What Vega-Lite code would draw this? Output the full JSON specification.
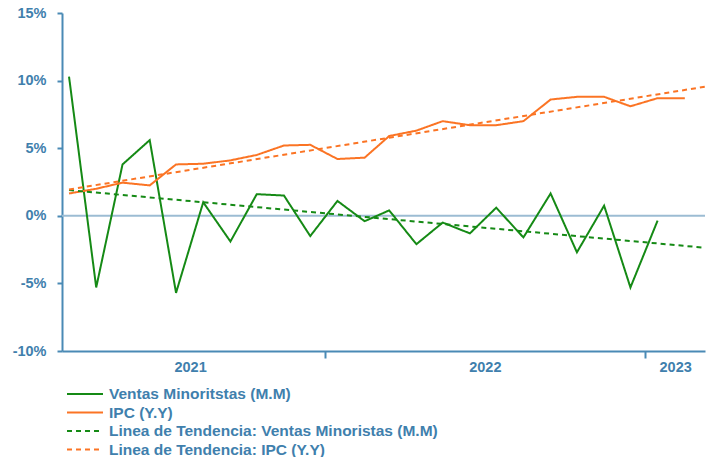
{
  "$schema": "https://vega.github.io/schema/vega-lite/v6.json",
  "width": 643,
  "height": 338,
  "autosize": {"type": "none"},
  "padding": {"left": 62, "top": 13, "right": 7, "bottom": 106},
  "background": "white",
  "config": {"view": {"stroke": null}, "font": "Liberation Sans"},
  "datasets": {
    "series": [
      {"date": "2021-03-15", "series": "Ventas Minoritstas (M.M)", "value": 10.3},
      {"date": "2021-04-15", "series": "Ventas Minoritstas (M.M)", "value": -5.3},
      {"date": "2021-05-15", "series": "Ventas Minoritstas (M.M)", "value": 3.8},
      {"date": "2021-06-15", "series": "Ventas Minoritstas (M.M)", "value": 5.6},
      {"date": "2021-07-15", "series": "Ventas Minoritstas (M.M)", "value": -5.7},
      {"date": "2021-08-15", "series": "Ventas Minoritstas (M.M)", "value": 1.0},
      {"date": "2021-09-15", "series": "Ventas Minoritstas (M.M)", "value": -1.9},
      {"date": "2021-10-15", "series": "Ventas Minoritstas (M.M)", "value": 1.6},
      {"date": "2021-11-15", "series": "Ventas Minoritstas (M.M)", "value": 1.5},
      {"date": "2021-12-15", "series": "Ventas Minoritstas (M.M)", "value": -1.5},
      {"date": "2022-01-15", "series": "Ventas Minoritstas (M.M)", "value": 1.1},
      {"date": "2022-02-15", "series": "Ventas Minoritstas (M.M)", "value": -0.4},
      {"date": "2022-03-15", "series": "Ventas Minoritstas (M.M)", "value": 0.4},
      {"date": "2022-04-15", "series": "Ventas Minoritstas (M.M)", "value": -2.1},
      {"date": "2022-05-15", "series": "Ventas Minoritstas (M.M)", "value": -0.5},
      {"date": "2022-06-15", "series": "Ventas Minoritstas (M.M)", "value": -1.3},
      {"date": "2022-07-15", "series": "Ventas Minoritstas (M.M)", "value": 0.6},
      {"date": "2022-08-15", "series": "Ventas Minoritstas (M.M)", "value": -1.6},
      {"date": "2022-09-15", "series": "Ventas Minoritstas (M.M)", "value": 1.65},
      {"date": "2022-10-15", "series": "Ventas Minoritstas (M.M)", "value": -2.7},
      {"date": "2022-11-15", "series": "Ventas Minoritstas (M.M)", "value": 0.75},
      {"date": "2022-12-15", "series": "Ventas Minoritstas (M.M)", "value": -5.3},
      {"date": "2023-01-15", "series": "Ventas Minoritstas (M.M)", "value": -0.35},
      {"date": "2021-03-15", "series": "IPC (Y.Y)", "value": 1.65},
      {"date": "2021-04-15", "series": "IPC (Y.Y)", "value": 2.0},
      {"date": "2021-05-15", "series": "IPC (Y.Y)", "value": 2.45},
      {"date": "2021-06-15", "series": "IPC (Y.Y)", "value": 2.25},
      {"date": "2021-07-15", "series": "IPC (Y.Y)", "value": 3.8},
      {"date": "2021-08-15", "series": "IPC (Y.Y)", "value": 3.85},
      {"date": "2021-09-15", "series": "IPC (Y.Y)", "value": 4.1},
      {"date": "2021-10-15", "series": "IPC (Y.Y)", "value": 4.5},
      {"date": "2021-11-15", "series": "IPC (Y.Y)", "value": 5.2},
      {"date": "2021-12-15", "series": "IPC (Y.Y)", "value": 5.25},
      {"date": "2022-01-15", "series": "IPC (Y.Y)", "value": 4.2},
      {"date": "2022-02-15", "series": "IPC (Y.Y)", "value": 4.3},
      {"date": "2022-03-15", "series": "IPC (Y.Y)", "value": 5.9},
      {"date": "2022-04-15", "series": "IPC (Y.Y)", "value": 6.3},
      {"date": "2022-05-15", "series": "IPC (Y.Y)", "value": 7.0},
      {"date": "2022-06-15", "series": "IPC (Y.Y)", "value": 6.7},
      {"date": "2022-07-15", "series": "IPC (Y.Y)", "value": 6.7},
      {"date": "2022-08-15", "series": "IPC (Y.Y)", "value": 7.0},
      {"date": "2022-09-15", "series": "IPC (Y.Y)", "value": 8.6},
      {"date": "2022-10-15", "series": "IPC (Y.Y)", "value": 8.8},
      {"date": "2022-11-15", "series": "IPC (Y.Y)", "value": 8.8},
      {"date": "2022-12-15", "series": "IPC (Y.Y)", "value": 8.1},
      {"date": "2023-01-15", "series": "IPC (Y.Y)", "value": 8.7},
      {"date": "2023-02-15", "series": "IPC (Y.Y)", "value": 8.7},
      {"date": "2021-03-15", "series": "Linea de Tendencia: Ventas Minoristas (M.M)", "value": 1.9},
      {"date": "2023-03-08", "series": "Linea de Tendencia: Ventas Minoristas (M.M)", "value": -2.35},
      {"date": "2021-03-15", "series": "Linea de Tendencia: IPC (Y.Y)", "value": 1.95},
      {"date": "2023-03-10", "series": "Linea de Tendencia: IPC (Y.Y)", "value": 9.55}
    ],
    "zero": [{"level": 0}]
  },
  "layer": [
    {
      "data": {"name": "zero"},
      "mark": {"type": "rule", "color": "#9cbcd3", "strokeWidth": 2},
      "encoding": {
        "y": {
          "field": "level",
          "type": "quantitative",
          "scale": {"domain": [-10, 15], "nice": false},
          "axis": {
            "title": null,
            "values": [-10, -5, 0, 5, 10, 15],
            "labelExpr": "datum.value + '%'",
            "tickSize": 5,
            "tickWidth": 2,
            "tickColor": "#4a8ab5",
            "domainColor": "#4a8ab5",
            "domainWidth": 2,
            "labelFont": "Liberation Sans",
            "labelFontWeight": "bold",
            "labelFontSize": 14.5,
            "labelColor": "#3f80ad",
            "labelPadding": 11,
            "grid": false
          }
        }
      }
    },
    {
      "data": {"name": "series", "format": {"parse": {"date": "date"}}},
      "mark": {"type": "line", "strokeWidth": 2},
      "encoding": {
        "x": {
          "field": "date",
          "type": "temporal",
          "scale": {"domain": [{"year": 2021, "month": 3, "date": 7}, {"year": 2023, "month": 3, "date": 10}]},
          "axis": {
            "title": null,
            "values": [
              {"year": 2021, "month": 7, "date": 31},
              {"year": 2022, "month": 1, "date": 1},
              {"year": 2022, "month": 7, "date": 2},
              {"year": 2023, "month": 1, "date": 1},
              {"year": 2023, "month": 2, "date": 4}
            ],
            "labelExpr": "month(datum.value) == 0 ? '' : timeFormat(datum.value, '%Y')",
            "tickOpacity": {"condition": {"test": "month(datum.value) == 0", "value": 1}, "value": 0},
            "tickSize": 7,
            "tickWidth": 2,
            "tickColor": "#4a8ab5",
            "domainColor": "#4a8ab5",
            "domainWidth": 2,
            "labelFont": "Liberation Sans",
            "labelFontWeight": "bold",
            "labelFontSize": 14.5,
            "labelColor": "#3f80ad",
            "labelPadding": 2,
            "labelOverlap": false,
            "labelFlush": false,
            "grid": false
          }
        },
        "y": {
          "field": "value",
          "type": "quantitative",
          "scale": {"domain": [-10, 15], "nice": false},
          "axis": {
            "title": null,
            "values": [-10, -5, 0, 5, 10, 15],
            "labelExpr": "datum.value + '%'",
            "tickSize": 5,
            "tickWidth": 2,
            "tickColor": "#4a8ab5",
            "domainColor": "#4a8ab5",
            "domainWidth": 2,
            "labelFont": "Liberation Sans",
            "labelFontWeight": "bold",
            "labelFontSize": 14.5,
            "labelColor": "#3f80ad",
            "labelPadding": 11,
            "grid": false
          }
        },
        "color": {
          "field": "series",
          "type": "nominal",
          "scale": {
            "domain": ["Ventas Minoritstas (M.M)", "IPC (Y.Y)", "Linea de Tendencia: Ventas Minoristas (M.M)", "Linea de Tendencia: IPC (Y.Y)"],
            "range": ["#158a15", "#fb7424", "#158a15", "#fb7424"]
          },
          "legend": {
            "title": null,
            "orient": "bottom",
            "direction": "vertical",
            "columns": 1,
            "symbolType": "stroke",
            "symbolSize": 1296,
            "symbolStrokeWidth": 2,
            "labelFont": "Liberation Sans",
            "labelFontWeight": "bold",
            "labelFontSize": 15.5,
            "labelColor": "#3f80ad",
            "labelLimit": 600,
            "labelOffset": 5,
            "clipHeight": 18,
            "rowPadding": 0.5,
            "padding": 4,
            "offset": 7
          }
        },
        "strokeDash": {
          "field": "series",
          "type": "nominal",
          "scale": {
            "domain": ["Ventas Minoritstas (M.M)", "IPC (Y.Y)", "Linea de Tendencia: Ventas Minoristas (M.M)", "Linea de Tendencia: IPC (Y.Y)"],
            "range": [[1, 0], [1, 0], [5, 4], [5, 4]]
          },
          "legend": {
            "title": null,
            "orient": "bottom",
            "direction": "vertical",
            "columns": 1,
            "symbolType": "stroke",
            "symbolSize": 1296,
            "symbolStrokeWidth": 2,
            "labelFont": "Liberation Sans",
            "labelFontWeight": "bold",
            "labelFontSize": 15.5,
            "labelColor": "#3f80ad",
            "labelLimit": 600,
            "labelOffset": 5,
            "clipHeight": 18,
            "rowPadding": 0.5,
            "padding": 4,
            "offset": 7
          }
        }
      }
    }
  ]
}
